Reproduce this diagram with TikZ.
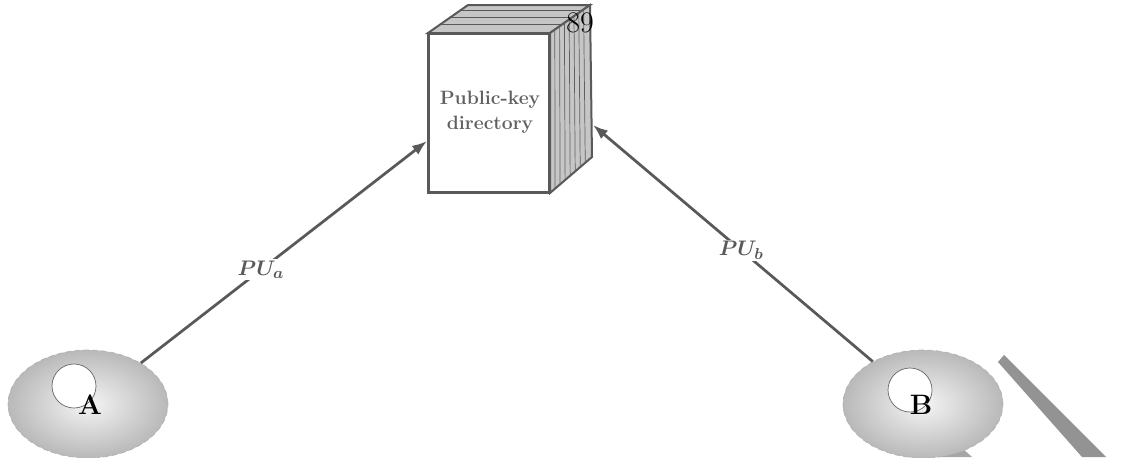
\documentclass[tikz,border=0pt]{standalone}
\usepackage{amsmath}
\usepackage{bm}
\usetikzlibrary{shapes.geometric,arrows.meta,calc}
\begin{document}
\begin{tikzpicture}[x=0.02cm,y=-0.02cm,
            party/.style={ellipse, draw=gray!60, densely dashed, thin, inner color=gray!8, outer color=gray!55, minimum width=3.2cm, minimum height=2.16cm, inner sep=0pt},
            hole/.style={circle, draw=gray!80!black, thin, fill=white, minimum size=0.88cm, inner sep=0pt},
            keylink/.style={draw=gray!70!black, line width=0.055cm, -{Latex[length=0.3cm,width=0.22cm]}},
            keylabel/.style={fill=white, inner sep=1pt, text=gray!70!black, font=\fontsize{13}{15}\selectfont}
            ]
            \useasboundingbox (0,0) rectangle (1139,457);
            % watermark stripe
            \fill[gray!85] (998,362) -- (1004,355) -- (1106,457) -- (1082,457) -- cycle;
            \fill[gray!70] (908,457) -- (925,448) -- (962,448) -- (972,457) -- cycle;
            % the directory book
            \fill[gray!45, draw=gray!70!black, line width=0.04cm] (428,33) -- (468,5) -- (590,5) -- (550,33) -- cycle;
            \foreach \t in {0.3,0.55,0.8}
              \draw[gray!70!black, thin] ($(428,33)!\t!(468,5)$) -- ($(550,33)!\t!(590,5)$);
            \fill[gray!45, draw=gray!70!black, line width=0.04cm] (550,33) -- (590,5) -- (592,157) -- (550,193) -- cycle;
            \foreach \t in {0.12,0.24,...,0.9}
              \draw[gray!75!black, thin] ($(550,33)!\t!(590,5)$) -- ($(550,193)!\t!(592,157)$);
            \node[draw=gray!70!black, line width=0.06cm, fill=white, minimum width=2.44cm, minimum height=3.2cm, inner sep=0pt] (dir) at (489,113) {};
            \node[text=gray!75!black, font=\fontsize{11}{14}\selectfont\bfseries, align=center] (dirtext) at (490,112) {Public-key\\directory};
            \node[font=\fontsize{17}{20}\selectfont] (page) at (580,23) {89};
            \coordinate (dirL) at (427,141);
            \coordinate (dirR) at (593,125);
            % the two parties
            \node[party] (A) at (88,404) {};
            \node[hole] (holeA) at (74,386) {};
            \node[font=\fontsize{16}{19}\selectfont\bfseries] (labA) at (90,405) {A};
            \node[party] (B) at (923,404) {};
            \node[hole] (holeB) at (910,390) {};
            \node[font=\fontsize{16}{19}\selectfont\bfseries] (labB) at (921,405) {B};
            % key publication
            \draw[keylink] (A) -- node[keylabel, pos=0.42] {$\bm{PU_a}$} (dirL);
            \draw[keylink] (B) -- node[keylabel, pos=0.47] {$\bm{PU_b}$} (dirR);
\end{tikzpicture}
\end{document}
